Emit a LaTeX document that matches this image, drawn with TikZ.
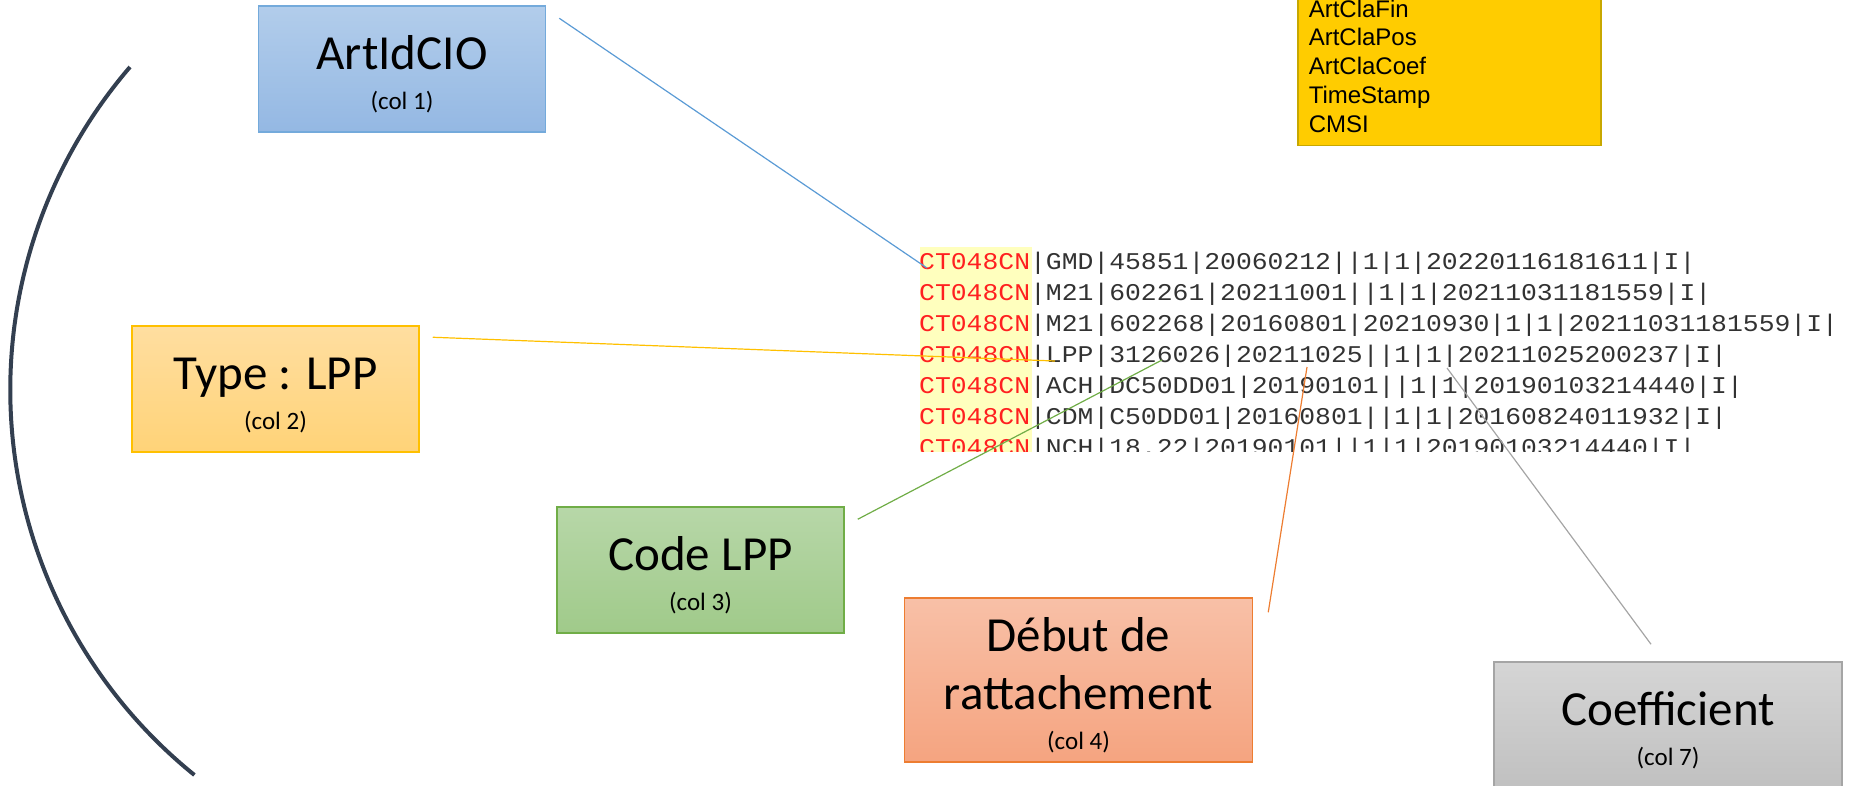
\documentclass[tikz,border=0pt]{standalone}
\usepackage{fontspec}
\setmainfont{Carlito}
\newfontfamily\datafont[FakeStretch=1.1]{Liberation Mono}
\newfontfamily\listfont{Liberation Sans}
\usetikzlibrary{calc}

\definecolor{bluetop}{RGB}{178,205,235}
\definecolor{bluebot}{RGB}{148,184,227}
\definecolor{blueline}{RGB}{91,155,213}
\definecolor{yellowtop}{RGB}{255,222,160}
\definecolor{yellowbot}{RGB}{255,211,120}
\definecolor{yellowline}{RGB}{255,192,0}
\definecolor{greentop}{RGB}{183,215,168}
\definecolor{greenbot}{RGB}{160,202,138}
\definecolor{greenline}{RGB}{112,173,71}
\definecolor{orangetop}{RGB}{248,192,167}
\definecolor{orangebot}{RGB}{245,164,128}
\definecolor{orangeline}{RGB}{237,125,49}
\definecolor{graytop}{RGB}{213,213,213}
\definecolor{graybot}{RGB}{192,192,192}
\definecolor{grayline}{RGB}{165,165,165}
\definecolor{gold}{RGB}{255,204,0}
\definecolor{golddark}{RGB}{200,168,0}
\definecolor{ctred}{RGB}{255,32,32}
\definecolor{datagray}{RGB}{50,50,50}
\definecolor{markyellow}{RGB}{255,255,190}
\definecolor{arcgray}{RGB}{51,63,80}

\newcommand\hstrut{\rule{0pt}{45pt}}
\newcommand\colno[1]{\\[-16pt]{\fontsize{25}{30}\selectfont (col #1)}}

\begin{document}
\begin{tikzpicture}[x=1pt,y=-1pt,
  field/.style={draw,line width=1.5pt,align=center,minimum width=287pt,
    minimum height=126pt,inner sep=0pt,font=\fontsize{49}{56}\selectfont},
  wide field/.style={field,minimum width=348pt},
  link/.style={line width=1.2pt},
  datarow/.style={anchor=base west,inner sep=0pt,text=datagray,
    font=\datafont\fontsize{24}{31}\selectfont},
  arcline/.style={line width=4pt,draw=arcgray}]

  \useasboundingbox (0,0) rectangle (1853,785);

  % big bracket on the left
  \draw[arcline] (130,67) arc[start angle=220.7, end angle=128.9, radius=495];

  % column list
  \node[anchor=south west,fill=gold,draw=golddark,line width=1.5pt,
    text width=281pt,align=left,inner xsep=11pt,inner ysep=13pt,
    font=\listfont\fontsize{24}{28.7}\selectfont] (attrs) at (1297,146)
    {ArtClaFin\\ArtClaPos\\ArtClaCoef\\TimeStamp\\CMSI};

  % file extract
  \begin{scope}
    \clip (900,240) rectangle (1853,451);
    \fill[markyellow] (920,247) rectangle (1032,460);
    \foreach \rest [count=\i from 0] in {
        |GMD|45851|20060212||1|1|20220116181611|I|,
        |M21|602261|20211001||1|1|20211031181559|I|,
        |M21|602268|20160801|20210930|1|1|20211031181559|I|,
        |LPP|3126026|20211025||1|1|20211025200237|I|,
        |ACH|DC50DD01|20190101||1|1|20190103214440|I|,
        |CDM|C50DD01|20160801||1|1|20160824011932|I|,
        |NCH|18.22|20190101||1|1|20190103214440|I|}
      \node[datarow] (row\i) at (919,269+31*\i) {\textcolor{ctred}{CT048CN}\rest};
  \end{scope}

  % fields
  \node[field,top color=bluetop,bottom color=bluebot,draw=blueline!85!white]
    (artid) at (402,69) {\hstrut ArtIdCIO\colno{1}};
  \node[field,top color=yellowtop,bottom color=yellowbot,draw=yellowline]
    (type) at (275.5,389) {\hstrut Type : LPP\colno{2}};
  \node[field,top color=greentop,bottom color=greenbot,draw=greenline]
    (code) at (700.5,570) {\hstrut Code LPP\colno{3}};
  \node[wide field,minimum height=164pt,top color=orangetop,bottom color=orangebot,
    draw=orangeline] (debut) at (1078.5,680) {\hstrut D\'ebut de\\[2pt]rattachement\colno{4}};
  \node[wide field,top color=graytop,bottom color=graybot,draw=grayline]
    (coef) at (1668,725) {\hstrut Coefficient\colno{7}};

  \coordinate (artid-end) at (927,268);
  \coordinate (type-end) at (1055,361);
  \coordinate (code-end) at (1162,360);
  \coordinate (debut-end) at (1307,367);
  \coordinate (coef-end) at (1447,368);

  \draw[link,blueline] ($(artid.north east)+(13,13)$) -- (artid-end);
  \draw[link,yellowline] ($(type.north east)+(13,12)$) -- (type-end);
  \draw[link,greenline] ($(code.north east)+(13,13)$) -- (code-end);
  \draw[link,orangeline] ($(debut.north east)+(15,15)$) -- (debut-end);
  \draw[link,grayline] ($(coef.north)+(-17,-17)$) -- (coef-end);
\end{tikzpicture}
\end{document}
